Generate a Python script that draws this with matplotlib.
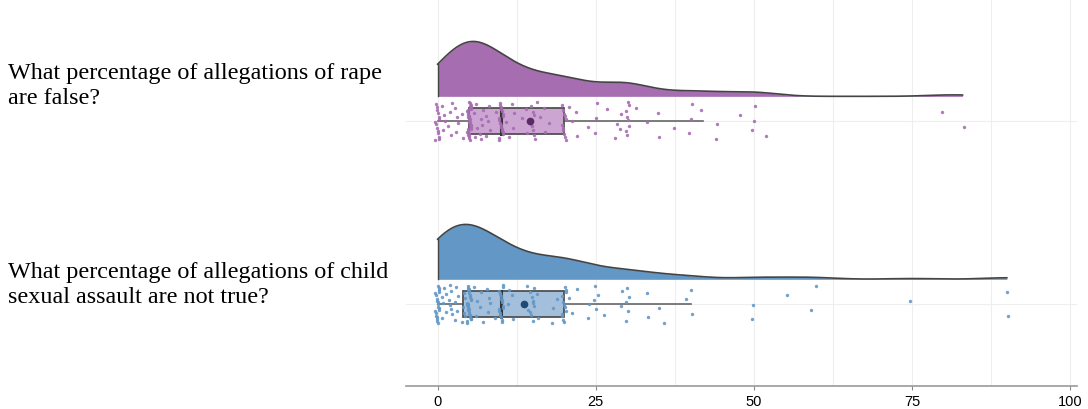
import numpy as np
import matplotlib.pyplot as plt

# survey answers (percent)
rape_vals = [0]*14 + [1]*4 + [2]*4 + [3]*4 + [4]*2 + [5]*32 + [6]*4 + [7]*5 + [8]*5 + [9] \
    + [10]*18 + [11]*2 + [12]*3 + [13] + [14]*2 + [15]*9 + [16]*2 + [17]*2 + [18] \
    + [20]*11 + [21]*2 + [22]*2 + [24] + [25]*3 + [27] + [28]*2 + [29]*2 + [30]*8 + [31, 33] \
    + [35]*2 + [37] + [40]*3 + [42] + [44]*2 + [48] + [50]*3 + [52, 80, 83]
child_vals = [0]*20 + [1]*6 + [2]*6 + [3]*5 + [4]*6 + [5]*26 + [6]*3 + [7]*3 + [8]*4 + [9] \
    + [10]*18 + [11]*2 + [12]*2 + [14]*2 + [15]*9 + [16]*2 + [18]*2 + [19] \
    + [20]*12 + [21]*2 + [22] + [24]*2 + [25]*4 + [26] + [29]*2 + [30]*5 + [33]*2 \
    + [35, 36, 39] + [40]*2 + [50]*2 + [55, 59, 60, 75] + [90]*2

questions = ["What percentage of allegations of rape\nare false?",
             "What percentage of allegations of child\nsexual assault are not true?"]
fills = ["#a66db1", "#6398c6"]
box_fills = ["#cda5d3", "#a3bfdc"]
dark = ["#5a2a66", "#1f4a75"]
xticks = [0, 25, 50, 75, 100]

fig = plt.figure(figsize=(10.88, 4.10), dpi=100)
ax = fig.add_axes([406/1088, 23/410, 671/1088, 387/410])

positions = [1, 0]
for k, vals in enumerate([rape_vals, child_vals]):
    v = np.array(vals, dtype=float)
    y0 = positions[k]
    q1, med, q3 = np.percentile(v, [25, 50, 75])
    iqr = q3 - q1

    # half density, trimmed to data range (bw.nrd0)
    bw = 0.9 * min(v.std(ddof=1), iqr / 1.34) * len(v) ** -0.2
    grid = np.linspace(0, v.max(), 700)
    dens = np.exp(-0.5 * ((grid[:, None] - v[None, :]) / bw) ** 2).sum(axis=1)
    dens = dens / dens.max() * 0.30
    base = y0 + 0.135
    ax.fill_between(grid, base, base + dens, color=fills[k], lw=0, zorder=3)
    ax.plot(grid, base + dens, color="#444444", lw=1.2, zorder=4)
    ax.plot([0, 0], [base, base + dens[0]], color="#444444", lw=1.0, zorder=4)

    # box plot
    lo = v[v >= q1 - 1.5 * iqr].min()
    hi = v[v <= q3 + 1.5 * iqr].max()
    h = 0.072
    ax.plot([lo, q1], [y0, y0], color="#666666", lw=1.2, zorder=3)
    ax.plot([q3, hi], [y0, y0], color="#666666", lw=1.2, zorder=3)
    ax.add_patch(plt.Rectangle((q1, y0 - h), q3 - q1, 2 * h, facecolor=box_fills[k],
                               edgecolor="#505050", lw=1.3, zorder=3))
    ax.plot([med, med], [y0 - h, y0 + h], color="#333333", lw=2.2, zorder=4)
    ax.plot(v.mean(), y0, "o", color=dark[k], ms=4.5, zorder=6)

    # jittered dots
    idx = np.arange(len(v))
    jit = (np.mod(idx * 0.6180339887 + k * 0.31, 1.0) - 0.5) * 0.21
    xj = v + (np.mod(idx * 0.7548776662, 1.0) - 0.5) * 0.7
    ax.scatter(xj, y0 + jit, s=6, color=fills[k], alpha=0.9, lw=0, zorder=5)

ax.set_xlim(-5.0, 101.1)
ax.set_ylim(-0.448, 1.667)
ax.set_xticks(xticks)
ax.set_xticks(np.arange(0, 101, 12.5), minor=True)
ax.set_yticks([0, 1])
ax.set_yticklabels([])
ax.tick_params(axis="y", length=0)
ax.tick_params(axis="x", which="major", length=3, color="#888888", labelsize=10.5, pad=3)
ax.tick_params(axis="x", which="minor", length=0)
for t in ax.get_xticklabels():
    t.set_fontfamily("Liberation Sans")
ax.grid(True, which="both", axis="x", color="#eeeeee", lw=0.8, zorder=0)
ax.grid(True, axis="y", color="#eeeeee", lw=0.8, zorder=0)
for s in ["top", "right", "left"]:
    ax.spines[s].set_visible(False)
ax.spines["bottom"].set_color("#999999")
ax.spines["bottom"].set_linewidth(1.2)

fig.text(8/1088, 1 - 86/410, questions[0], fontsize=17.4, family="Liberation Serif",
         va="center", ha="left", linespacing=1.25)
fig.text(8/1088, 1 - 285/410, questions[1], fontsize=17.4, family="Liberation Serif",
         va="center", ha="left", linespacing=1.25)

fig.savefig("out.png", dpi=100)
